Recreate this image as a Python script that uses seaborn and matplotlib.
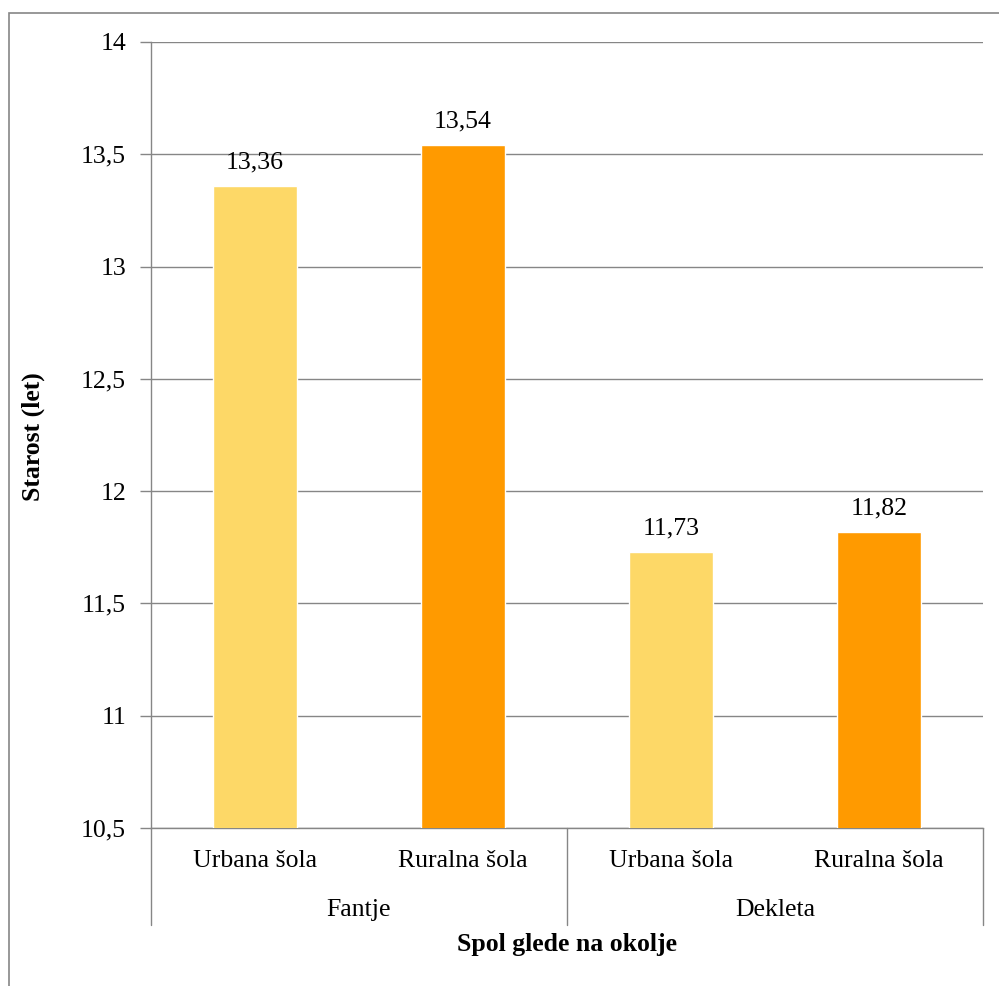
import matplotlib
matplotlib.use('Agg')
import matplotlib.pyplot as plt
import matplotlib.transforms as mtransforms
from matplotlib.patches import Rectangle
import seaborn as sns
import pandas as pd

# data
groups = ['Fantje', 'Fantje', 'Dekleta', 'Dekleta']
schools = ['Urbana šola', 'Ruralna šola', 'Urbana šola', 'Ruralna šola']
values = [13.36, 13.54, 11.73, 11.82]
yticks = [10.5, 11, 11.5, 12, 12.5, 13, 13.5, 14]

df = pd.DataFrame({'group': groups, 'school': schools, 'value': values})
df['key'] = df['group'] + ' ' + df['school']

sns.set_theme(style='white')
plt.rcParams['font.family'] = ['Liberation Serif', 'DejaVu Serif']
plt.rcParams['text.color'] = 'black'
plt.rcParams['xtick.color'] = 'black'
plt.rcParams['ytick.color'] = 'black'
fs = 18.5
grey = '#868686'

fig = plt.figure(figsize=(9.99, 9.86), dpi=100)
ax = fig.add_axes([151 / 999, 1 - 828 / 986, (983 - 151) / 999, (828 - 42) / 986])

palette = {'Urbana šola': '#FDD867', 'Ruralna šola': '#FF9A00'}
sns.barplot(data=df, x='key', y='value', hue='school', palette=palette,
            dodge=False, width=0.4, legend=False, ax=ax, saturation=1, zorder=3)

ax.set_ylim(10.5, 14)
ax.set_xlim(-0.5, 3.5)
ax.set_yticks(yticks)
ax.set_yticklabels([f'{t:g}'.replace('.', ',') for t in yticks], fontsize=fs)
ax.set_xticks(range(len(schools)))
ax.set_xticklabels(schools, fontsize=fs)
ax.tick_params(axis='x', length=0, pad=16, labelcolor='black')
ax.tick_params(axis='y', length=8, width=1, color=grey, left=True, pad=10, labelcolor='black')
ax.yaxis.grid(True, color=grey, linewidth=1, zorder=0)
for s in ['top', 'right']:
    ax.spines[s].set_visible(False)
for s in ['left', 'bottom']:
    ax.spines[s].set_color(grey)
    ax.spines[s].set_linewidth(1)

# value labels
for i, v in enumerate(values):
    ax.annotate(f'{v:.2f}'.replace('.', ','), xy=(i, v), xytext=(0, 9),
                textcoords='offset points', ha='center', va='bottom', fontsize=fs,
                color='black')

# group labels and dividers below the axis
trans = mtransforms.blended_transform_factory(ax.transData, ax.transAxes)
drop = -(925 - 828) / 786
for xd in [-0.5, 1.5, 3.5]:
    ax.plot([xd, xd], [0, drop], transform=trans, color=grey, lw=1, clip_on=False)
group_names = list(dict.fromkeys(groups))
for gi, g in enumerate(group_names):
    ax.text(gi * 2 + 0.5, -(910 - 828) / 786, g, transform=trans,
            ha='center', va='center', fontsize=fs, color='black')

ax.set_xlabel('')
ax.set_ylabel('')
fig.text(567 / 999, 1 - 945 / 986, 'Spol glede na okolje', ha='center', va='center',
         fontsize=fs, fontweight='bold', color='black')
fig.text(33 / 999, 1 - 437 / 986, 'Starost (let)', ha='center', va='center',
         rotation=90, fontsize=fs, fontweight='bold', color='black')

fig.add_artist(Rectangle((9 / 999, -0.01), 1.0, 1 - 13 / 986 + 0.01,
                         transform=fig.transFigure, fill=False, edgecolor=grey, lw=1.2))

fig.savefig('out.png', dpi=100)
